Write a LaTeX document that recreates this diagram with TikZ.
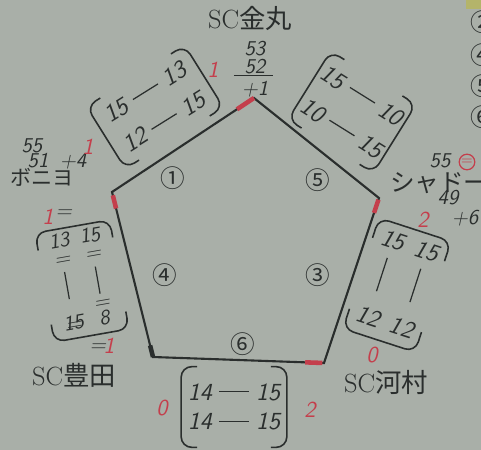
\documentclass[tikz,border=0pt]{standalone}
\usepackage{fontspec}
\newfontfamily\jp{Noto Sans CJK JP}
\usetikzlibrary{positioning, calc}
\definecolor{board}{HTML}{A9AFA8}
\definecolor{ink}{HTML}{2A2E2D}
\definecolor{redpen}{HTML}{C43F4C}
\definecolor{tape}{HTML}{B4B46A}
\newcommand\hand{\sffamily\itshape}
\newcommand\pdash{\hspace{0.3em}\rule[0.32em]{1.2em}{0.7pt}\hspace{0.3em}}

\begin{document}
\begin{tikzpicture}[
    x=0.02cm, y=-0.02cm,
    team/.style={text=ink, font=\fontsize{15}{15}\selectfont, inner sep=1pt},
    circnum/.style={text=ink, font=\jp\fontsize{14}{14}\selectfont, inner sep=0pt},
    score/.style={text=ink, font=\fontsize{12}{12}\selectfont\hand, inner sep=1pt},
    redscore/.style={text=redpen, font=\fontsize{13}{13}\selectfont\hand, inner sep=1pt},
    pair/.style={text=ink, font=\fontsize{14}{20}\selectfont\hand, align=center, inner sep=0pt},
    bracket/.style={draw=ink, line width=0.9pt, rounded corners=6pt},
    side/.style={draw=ink, line width=1.2pt, line join=miter},
    tick/.style={draw=redpen, line width=2.6pt},
]

% board
\fill[board] (0,0) rectangle (481,450);
\useasboundingbox (0,0) rectangle (481,450);
\fill[tape] (466,0) rectangle (481,9);

% pentagon
\coordinate (K) at (254,98);
\coordinate (S) at (379,198);
\coordinate (Ka) at (324,363);
\coordinate (T) at (153,357);
\coordinate (B) at (112,192);
\draw[side] (K) -- (S) -- (Ka) -- (T) -- (B) -- cycle;

% marks on the corners
\draw[tick] (K) -- ($(K)!0.12!(B)$);
\draw[tick] ($(S)!0.01!(Ka)$) -- ($(S)!0.09!(Ka)$);
\draw[tick] ($(Ka)!0.01!(T)$) -- ($(Ka)!0.11!(T)$);
\draw[tick, draw=ink] (T) -- ($(T)!0.07!(B)$);
\draw[tick] ($(B)!0.02!(T)$) -- ($(B)!0.1!(T)$);

% match numbers
\node[circnum] (n1) at (173,178) {①};
\node[circnum] (n5) at (318,180) {⑤};
\node[circnum] (n4) at (165,275) {④};
\node[circnum] (n3) at (318,275) {③};
\node[circnum] (n6) at (243,344) {⑥};
\foreach \n/\y in {②/22, ④/55, ⑤/86, ⑥/117}
  \node[circnum] (list\y) at (483,\y) {\n};

% teams
\node[team] (kanamaru) at (250,18) {SC\jp 金丸};
\node[team, font=\jp\fontsize{12}{12}\selectfont] (bonita) at (42,177) {ボニヨ};
\node[team, font=\jp\fontsize{14}{14}\selectfont, anchor=west] (shadow) at (388,183) {シャドー};
\node[team] (kawamura) at (386,382) {SC\jp 河村};
\node[team] (toyota) at (74,375) {SC\jp 豊田};

% points
\node[score] (k53) at (255,49) {53};
\node[score, below=-1pt of k53] (k52) {52};
\draw[ink, line width=0.8pt] ([xshift=-5pt]k52.south west) -- ([xshift=3pt]k52.south east);
\node[score, below=2pt of k52] (k1) {+1};
\node[score] (b55) at (32,146) {55};
\node[score] (b51) at (38,161) {51};
\node[score] (b4) at (73,161) {+4};
\node[score] (s55) at (440,161) {55};
\node[draw=redpen, circle, line width=0.7pt, inner sep=0.6pt, text=redpen, font=\fontsize{8}{8}\selectfont] (sc) at (467,162) {=};
\node[score] (s49) at (448,198) {49};
\node[score] (s6) at (465,218) {+6};

% match 1
\node[pair, rotate=32, minimum width=2.3cm, minimum height=1.45cm] (m1) at (155,107) {15\pdash 13\\12\pdash 15};
\draw[bracket] ($(m1.north west)!0.14!(m1.north east)$) -- (m1.north west) -- (m1.south west) -- ($(m1.south west)!0.14!(m1.south east)$);
\draw[bracket] ($(m1.north east)!0.14!(m1.north west)$) -- (m1.north east) -- (m1.south east) -- ($(m1.south east)!0.14!(m1.south west)$);
\node[redscore] (r1a) at (213,70) {1};
\node[redscore] (r1b) at (88,147) {1};

% match 5
\node[pair, rotate=-32, font=\fontsize{14}{22}\selectfont\hand, minimum width=2cm, minimum height=1.6cm] (m5) at (352,112) {15\pdash 10\\10\pdash 15};
\draw[bracket] ($(m5.north west)!0.16!(m5.north east)$) -- (m5.north west) -- (m5.south west) -- ($(m5.south west)!0.16!(m5.south east)$);
\draw[bracket] ($(m5.north east)!0.16!(m5.north west)$) -- (m5.north east) -- (m5.south east) -- ($(m5.south east)!0.16!(m5.south west)$);

% match 3
\node[pair, rotate=-18, minimum width=1.5cm, minimum height=2.3cm] (m3) at (397,285) {%
  \begin{tabular}{@{}c@{\hspace{0.45em}}c@{}}
  15 & 15\\
  \rule{0.7pt}{0.7cm} & \rule{0.7pt}{0.7cm}\\
  12 & 12
  \end{tabular}};
\draw[bracket] ($(m3.north west)!0.18!(m3.south west)$) -- (m3.north west) -- (m3.north east) -- ($(m3.north east)!0.18!(m3.south east)$);
\draw[bracket] ($(m3.south west)!0.18!(m3.north west)$) -- (m3.south west) -- (m3.south east) -- ($(m3.south east)!0.18!(m3.north east)$);
\node[redscore] (r3a) at (423,220) {2};
\node[redscore] (r3b) at (372,355) {0};

% match 6
\node[pair, font=\fontsize{14}{17}\selectfont\hand, minimum width=2.1cm, minimum height=1.6cm] (m6) at (234,407) {14\pdash 15\\14\pdash 15};
\draw[bracket] ($(m6.north west)!0.15!(m6.north east)$) -- (m6.north west) -- (m6.south west) -- ($(m6.south west)!0.15!(m6.south east)$);
\draw[bracket] ($(m6.north east)!0.15!(m6.north west)$) -- (m6.north east) -- (m6.south east) -- ($(m6.south east)!0.15!(m6.south west)$);
\node[redscore] (r6a) at (162,408) {0};
\node[redscore] (r6b) at (310,410) {2};

% match 4
\node[pair, rotate=10, font=\fontsize{12}{14}\selectfont\hand, minimum width=1.5cm, minimum height=2.2cm] (m4) at (82,281) {%
  \begin{tabular}{@{}c@{\hspace{0.5em}}c@{}}
  13 & 15\\[-4pt]
  = & =\\
  \rule{0.7pt}{0.55cm} & \rule{0.7pt}{0.55cm}\\
  \ooalign{15\cr\hidewidth=\hidewidth\cr} & \shortstack{=\\[-2pt]8}
  \end{tabular}};
\draw[bracket] ($(m4.north west)!0.16!(m4.south west)$) -- (m4.north west) -- (m4.north east) -- ($(m4.north east)!0.16!(m4.south east)$);
\draw[bracket] ($(m4.south west)!0.16!(m4.north west)$) -- (m4.south west) -- (m4.south east) -- ($(m4.south east)!0.16!(m4.north east)$);
\node[redscore] (r4a) at (48,217) {1};
\node[score] (e4a) at (64,214) {=};
\node[score] (e4b) at (98,348) {=};
\node[redscore] (r4b) at (109,346) {1};

\end{tikzpicture}
\end{document}
